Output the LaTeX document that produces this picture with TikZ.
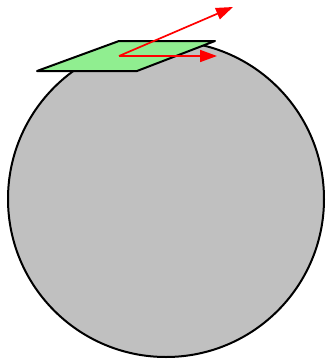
\documentclass[tikz,border=0pt]{standalone}
\usepackage{tikz}
\usetikzlibrary{arrows.meta}
\definecolor{spheregray}{RGB}{192,192,192}
\definecolor{planegreen}{RGB}{144,238,144}

\begin{document}
\begin{tikzpicture}[x=1pt, y=-1pt, line join=round]
\useasboundingbox (0,0) rectangle (326,359);
\draw[line width=2pt, fill=spheregray] (166,199) circle (158);
\draw[line width=2pt, fill=planegreen] (119,41) -- (215,41) -- (137,71) -- (37,71) -- cycle;
\coordinate (base) at (119,56);
\coordinate (normal) at (233,7);
\coordinate (tangent) at (217,56);
\draw[-{Triangle[length=17pt,width=12pt]}, red, line width=1.7pt] (base) -- (normal);
\draw[-{Triangle[length=17pt,width=12pt]}, red, line width=1.7pt] (base) -- (tangent);
\end{tikzpicture}
\end{document}
